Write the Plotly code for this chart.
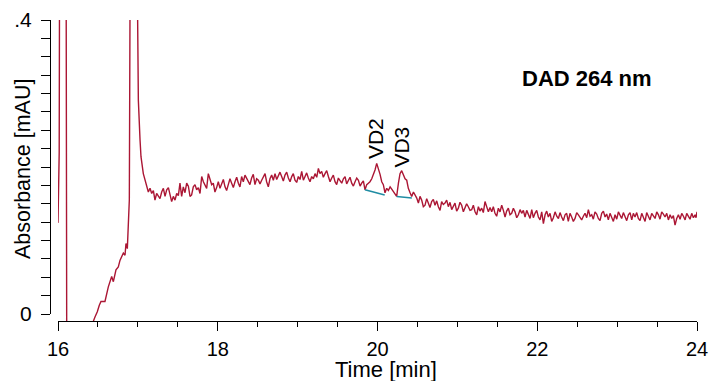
import plotly.graph_objects as go

# ---- data ----
# injection / solvent front region
t_front = [
    16.000, 16.003, 16.010, 16.015, 16.065, 16.113, 16.300, 16.436, 16.442, 16.463,
    16.492, 16.517, 16.538, 16.588, 16.630, 16.672, 16.693, 16.726, 16.755, 16.776,
    16.818, 16.839, 16.851, 16.868, 16.880, 16.893, 16.901, 16.950, 16.997, 17.006,
    17.027, 17.039, 17.068,
]
a_front = [
    0.124, 0.155, 0.178, 0.220, 3.000, -0.300, -0.300, -0.020, -0.010, -0.004,
    0.003, 0.012, 0.017, 0.017, 0.037, 0.051, 0.044, 0.060, 0.064, 0.073,
    0.083, 0.080, 0.096, 0.089, 0.114, 0.155, 0.400, 3.000, 0.400, 0.291,
    0.237, 0.214, 0.191,
]
# baseline before the peaks
t_base1 = [
    17.089, 17.110, 17.131, 17.152, 17.173, 17.194, 17.214, 17.235, 17.256, 17.277,
    17.298, 17.319, 17.340, 17.361, 17.382, 17.402, 17.423, 17.444, 17.465, 17.486,
    17.507, 17.527, 17.548, 17.569, 17.590, 17.611, 17.632, 17.653, 17.673, 17.694,
    17.715, 17.736, 17.757, 17.778, 17.799, 17.820, 17.840, 17.861, 17.882, 17.903,
    17.924, 17.944, 17.965, 17.986, 18.007, 18.028, 18.049, 18.070, 18.091, 18.111,
    18.132, 18.153, 18.174, 18.195, 18.216, 18.237, 18.258, 18.278, 18.299, 18.320,
    18.341, 18.362, 18.383, 18.403, 18.424, 18.445, 18.466, 18.487, 18.508, 18.529,
    18.550, 18.571, 18.592, 18.612, 18.633, 18.654, 18.675, 18.696, 18.717, 18.738,
    18.758, 18.779, 18.800, 18.821, 18.842, 18.863, 18.884, 18.905, 18.926, 18.946,
    18.967, 18.988, 19.009, 19.030, 19.051, 19.072, 19.093, 19.113, 19.134, 19.155,
    19.176, 19.197, 19.218, 19.239, 19.260, 19.280, 19.301, 19.322, 19.343, 19.364,
    19.385, 19.406, 19.427, 19.447, 19.468, 19.489, 19.510, 19.531, 19.552, 19.573,
    19.594, 19.614, 19.635, 19.656, 19.677, 19.698, 19.719, 19.740, 19.761, 19.782,
    19.802, 19.823,
]
a_base1 = [
    0.182, 0.173, 0.166, 0.171, 0.164, 0.168, 0.155, 0.164, 0.160, 0.157,
    0.166, 0.171, 0.160, 0.169, 0.172, 0.160, 0.153, 0.160, 0.155, 0.164,
    0.161, 0.178, 0.160, 0.173, 0.165, 0.178, 0.174, 0.160, 0.162, 0.173,
    0.176, 0.169, 0.172, 0.164, 0.187, 0.180, 0.176, 0.171, 0.191, 0.182,
    0.176, 0.178, 0.166, 0.172, 0.180, 0.171, 0.178, 0.183, 0.173, 0.168,
    0.176, 0.184, 0.178, 0.172, 0.180, 0.186, 0.178, 0.173, 0.187, 0.180,
    0.189, 0.184, 0.180, 0.176, 0.185, 0.190, 0.176, 0.184, 0.182, 0.177,
    0.182, 0.187, 0.191, 0.180, 0.173, 0.184, 0.189, 0.182, 0.191, 0.183,
    0.189, 0.193, 0.187, 0.181, 0.189, 0.193, 0.185, 0.180, 0.187, 0.191,
    0.182, 0.179, 0.187, 0.183, 0.194, 0.182, 0.187, 0.192, 0.185, 0.180,
    0.187, 0.184, 0.191, 0.186, 0.198, 0.191, 0.194, 0.186, 0.191, 0.195,
    0.187, 0.180, 0.185, 0.189, 0.180, 0.176, 0.185, 0.182, 0.178, 0.184,
    0.187, 0.177, 0.182, 0.186, 0.178, 0.174, 0.180, 0.185, 0.182, 0.174,
    0.178, 0.181,
]
# VD2 / VD3 region
t_peaks = [
    19.844, 19.865, 19.886, 19.906, 19.928, 19.948, 19.969, 19.990, 20.011, 20.032,
    20.053, 20.073, 20.094, 20.115, 20.136, 20.158, 20.178, 20.199, 20.220, 20.240,
    20.262, 20.282, 20.303, 20.323, 20.345, 20.366, 20.386, 20.408, 20.428, 20.450,
    20.470, 20.490, 20.512,
]
a_peaks = [
    0.169, 0.176, 0.178, 0.180, 0.184, 0.189, 0.196, 0.205, 0.198, 0.190,
    0.180, 0.176, 0.165, 0.171, 0.168, 0.173, 0.170, 0.166, 0.164, 0.160,
    0.178, 0.191, 0.195, 0.189, 0.184, 0.182, 0.171, 0.165, 0.160, 0.166,
    0.162, 0.158, 0.151,
]
# baseline after the peaks
t_base2 = [
    20.532, 20.553, 20.574, 20.595, 20.616, 20.636, 20.657, 20.678, 20.699, 20.720,
    20.741, 20.762, 20.783, 20.803, 20.824, 20.845, 20.866, 20.887, 20.908, 20.929,
    20.950, 20.970, 20.991, 21.012, 21.033, 21.054, 21.075, 21.096, 21.116, 21.137,
    21.158, 21.179, 21.200, 21.221, 21.242, 21.263, 21.283, 21.304, 21.325, 21.346,
    21.367, 21.388, 21.409, 21.430, 21.450, 21.471, 21.492, 21.513, 21.534, 21.555,
    21.576, 21.597, 21.617, 21.638, 21.659, 21.680, 21.701, 21.722, 21.743, 21.764,
    21.785, 21.805, 21.826, 21.847, 21.868, 21.889, 21.910, 21.931, 21.951, 21.972,
    21.993, 22.014, 22.035, 22.056, 22.077, 22.098, 22.118, 22.139, 22.160, 22.181,
    22.202, 22.223, 22.244, 22.265, 22.285, 22.306, 22.327, 22.348, 22.368, 22.389,
    22.410, 22.431, 22.452, 22.473, 22.494, 22.515, 22.536, 22.556, 22.577, 22.598,
    22.619, 22.640, 22.661, 22.682, 22.702, 22.723, 22.744, 22.765, 22.786, 22.807,
    22.828, 22.849, 22.869, 22.890, 22.911, 22.932, 22.953, 22.974, 22.995, 23.016,
    23.036, 23.057, 23.078, 23.099, 23.120, 23.141, 23.162, 23.183, 23.203, 23.224,
    23.245, 23.266, 23.287, 23.308, 23.329, 23.350, 23.370, 23.391, 23.412, 23.433,
    23.454, 23.475, 23.496, 23.517, 23.537, 23.558, 23.579, 23.600, 23.621, 23.642,
    23.663, 23.684, 23.704, 23.725, 23.746, 23.767, 23.788, 23.809, 23.830, 23.851,
    23.871, 23.892, 23.913, 23.934, 23.955, 23.976, 23.988, 24.000,
]
a_base2 = [
    0.160, 0.155, 0.146, 0.148, 0.157, 0.151, 0.145, 0.153, 0.156, 0.148,
    0.154, 0.146, 0.141, 0.153, 0.149, 0.151, 0.155, 0.146, 0.152, 0.142,
    0.147, 0.151, 0.140, 0.144, 0.152, 0.148, 0.139, 0.144, 0.150, 0.146,
    0.141, 0.142, 0.148, 0.139, 0.135, 0.146, 0.140, 0.144, 0.138, 0.153,
    0.146, 0.139, 0.145, 0.139, 0.146, 0.137, 0.133, 0.144, 0.139, 0.148,
    0.141, 0.132, 0.140, 0.144, 0.135, 0.137, 0.144, 0.139, 0.131, 0.135,
    0.142, 0.137, 0.141, 0.132, 0.141, 0.135, 0.130, 0.142, 0.131, 0.137,
    0.141, 0.132, 0.128, 0.139, 0.123, 0.135, 0.140, 0.132, 0.137, 0.126,
    0.131, 0.139, 0.133, 0.130, 0.138, 0.132, 0.127, 0.135, 0.137, 0.126,
    0.137, 0.132, 0.126, 0.130, 0.138, 0.135, 0.131, 0.128, 0.133, 0.137,
    0.131, 0.142, 0.133, 0.135, 0.129, 0.139, 0.136, 0.130, 0.127, 0.137,
    0.140, 0.132, 0.136, 0.128, 0.137, 0.130, 0.126, 0.135, 0.129, 0.139,
    0.135, 0.130, 0.138, 0.132, 0.127, 0.135, 0.138, 0.128, 0.137, 0.132,
    0.138, 0.130, 0.127, 0.137, 0.132, 0.126, 0.138, 0.132, 0.128, 0.137,
    0.133, 0.130, 0.139, 0.135, 0.129, 0.139, 0.136, 0.132, 0.137, 0.128,
    0.135, 0.130, 0.134, 0.121, 0.130, 0.135, 0.129, 0.137, 0.133, 0.128,
    0.137, 0.132, 0.129, 0.137, 0.131, 0.135, 0.131, 0.139,
]

time_min = t_front + t_base1 + t_peaks + t_base2
absorbance_mau = a_front + a_base1 + a_peaks + a_base2

# integration baselines of the two labelled peaks
vd2_base_t = [19.843, 20.090]
vd2_base_a = [0.169, 0.162]
vd3_base_t = [20.240, 20.430]
vd3_base_a = [0.160, 0.158]

peak_names = ["VD2", "VD3"]
peak_label_t = [19.969, 20.300]
peak_label_a = [0.238, 0.227]

x_major = [16, 18, 20, 22, 24]
x_minor = [16.5, 17, 17.5, 18.5, 19, 19.5, 20.5, 21, 21.5, 22.5, 23, 23.5]
y_tickvals = [0, 0.025, 0.05, 0.075, 0.1, 0.125, 0.15, 0.175, 0.2, 0.225, 0.25,
              0.275, 0.3, 0.325, 0.35, 0.375, 0.4]
y_ticktext = ["0"] + [""] * 15 + [".4"]

FONT = "Liberation Sans, Arial, Helvetica, sans-serif"
TRACE_COLOR = "#ab1634"
BASE_COLOR = "#1f8ca3"

fig = go.Figure()
fig.add_trace(go.Scatter(x=time_min, y=absorbance_mau, mode="lines",
                         line=dict(color=TRACE_COLOR, width=1.4),
                         showlegend=False, hoverinfo="skip"))
fig.add_trace(go.Scatter(x=vd2_base_t, y=vd2_base_a, mode="lines",
                         line=dict(color=BASE_COLOR, width=1.5),
                         showlegend=False, hoverinfo="skip"))
fig.add_trace(go.Scatter(x=vd3_base_t, y=vd3_base_a, mode="lines",
                         line=dict(color=BASE_COLOR, width=1.5),
                         showlegend=False, hoverinfo="skip"))
# carrier for the displayed absorbance axis
fig.add_trace(go.Scatter(x=[None], y=[None], yaxis="y2", mode="lines",
                         showlegend=False, hoverinfo="skip"))

for name, t, a in zip(peak_names, peak_label_t, peak_label_a):
    fig.add_annotation(x=t, y=a, xref="x", yref="y", text=name, showarrow=False,
                       textangle=-90, xanchor="center", yanchor="middle",
                       font=dict(family=FONT, size=21, color="black"))

fig.add_annotation(x=0.8300, y=0.806, xref="paper", yref="paper",
                   text="<b>DAD 264 nm</b>", showarrow=False,
                   xanchor="center", yanchor="middle",
                   font=dict(family=FONT, size=22, color="black"))
fig.add_annotation(x=0.5193, y=-0.161, xref="paper", yref="paper",
                   text="Time [min]", showarrow=False,
                   xanchor="center", yanchor="middle",
                   font=dict(family=FONT, size=22, color="black"))
fig.add_annotation(x=-0.0417, y=0.505, xref="paper", yref="paper",
                   text="Absorbance [mAU]", showarrow=False, textangle=-90,
                   xanchor="center", yanchor="middle",
                   font=dict(family=FONT, size=21.5, color="black"))

fig.update_layout(
    width=714, height=381,
    margin=dict(l=50, r=17, t=20, b=60, autoexpand=False),
    paper_bgcolor="white", plot_bgcolor="rgba(0,0,0,0)",
    font=dict(family=FONT, size=21, color="black"),
    xaxis=dict(
        domain=[8 / 647, 1], range=[16, 24], anchor="y", automargin=False,
        showgrid=False, zeroline=False,
        showline=True, linecolor="black", linewidth=1,
        tickmode="array", tickvals=x_major, ticktext=[str(v) for v in x_major],
        ticks="outside", ticklen=9, tickwidth=1, tickcolor="black",
        ticklabelstandoff=1,
        minor=dict(tickmode="array", tickvals=x_minor, ticks="outside",
                   ticklen=5, tickwidth=1, tickcolor="black", showgrid=False),
        tickfont=dict(family=FONT, size=20, color="black"),
    ),
    yaxis=dict(range=[-0.0095, 0.4], domain=[0, 1], visible=False,
               fixedrange=True, automargin=False),
    yaxis2=dict(
        domain=[7 / 301, 1], range=[0, 0.4], anchor="free", position=0,
        automargin=False,
        showgrid=False, zeroline=False,
        showline=True, linecolor="black", linewidth=1,
        tickmode="array", tickvals=y_tickvals, ticktext=y_ticktext,
        ticks="outside", ticklen=9, tickwidth=1, tickcolor="black",
        ticklabelstandoff=5,
        tickfont=dict(family=FONT, size=21, color="black"),
    ),
)

fig.write_html("out.html")
